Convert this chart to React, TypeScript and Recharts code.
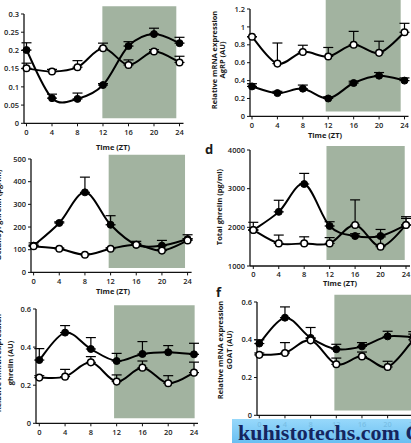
import { ComposedChart, Line, XAxis, YAxis, ErrorBar, ReferenceArea } from 'recharts';

// ZT sampling times (hours)
const ZT = [0, 4, 8, 12, 16, 20, 24];

// panel a
const aFilled = [0.201, 0.069, 0.067, 0.105, 0.212, 0.245, 0.22];
const aFilledErr = [0.02, 0.011, 0.016, 0.004, 0.012, 0.016, 0.016];
const aOpen = [0.151, 0.142, 0.154, 0.206, 0.16, 0.197, 0.167];
const aOpenErr = [0.014, 0.006, 0.018, 0.014, 0.014, 0.005, 0.017];
const aTicks = [0, 0.05, 0.1, 0.15, 0.2, 0.25, 0.3];

// panel b — AgRP mRNA
const bFilled = [0.335, 0.26, 0.31, 0.2, 0.373, 0.455, 0.4];
const bFilledErr = [0.03, 0.02, 0.04, 0.02, 0.02, 0.035, 0.03];
const bOpen = [0.89, 0.59, 0.72, 0.67, 0.8, 0.71, 0.94];
const bOpenErr = [0, 0.23, 0.075, 0.1, 0.15, 0.13, 0.1];
const bTicks = [0, 0.2, 0.4, 0.6, 0.8, 1, 1.2];

// panel c — octanoyl ghrelin
const cFilled = [118, 218, 353, 210, 122, 118, 147];
const cFilledErr = [12, 5, 67, 40, 15, 23, 19];
const cOpen = [115, 104, 78, 104, 122, 96, 141];
const cOpenErr = [6, 4, 4, 5, 6, 5, 8];
const cTicks = [0, 100, 200, 300, 400, 500];

// panel d — total ghrelin
const dFilled = [1930, 2400, 3120, 2035, 1775, 1775, 2060];
const dFilledErr = [200, 300, 275, 110, 60, 170, 170];
const dOpen = [1930, 1585, 1585, 1585, 2060, 1500, 2060];
const dOpenErr = [0, 215, 170, 150, 650, 250, 215];
const dTicks = [1000, 2000, 3000, 4000];

// panel e — ghrelin mRNA
const eFilled = [0.332, 0.476, 0.39, 0.327, 0.364, 0.373, 0.362];
const eFilledErr = [0.06, 0.037, 0.06, 0.04, 0.065, 0.035, 0.058];
const eOpen = [0.24, 0.245, 0.32, 0.219, 0.292, 0.21, 0.266];
const eOpenErr = [0.01, 0.038, 0.03, 0.035, 0.035, 0.04, 0.055];
const eTicks = [0, 0.2, 0.4, 0.6];

// panel f — GOAT mRNA
const fFilled = [0.38, 0.517, 0.41, 0.35, 0.365, 0.418, 0.413];
const fFilledErr = [0.02, 0.057, 0.055, 0.026, 0.02, 0.027, 0.03];
const fOpen = [0.32, 0.33, 0.397, 0.27, 0.312, 0.256, 0.4];
const fOpenErr = [0.01, 0.055, 0.01, 0.033, 0.023, 0.03, 0.03];
const fTicks = [0, 0.2, 0.4, 0.6];

const FONT = '"Open Sans", "Liberation Sans", sans-serif';
const SHADE = '#a2b3a0';

// Excel-like smoothed line (Catmull-Rom through the points)
function smoothCurve(context: any) {
  let pts: number[][] = [];
  return {
    areaStart() {},
    areaEnd() {},
    lineStart() {
      pts = [];
    },
    lineEnd() {
      if (!pts.length) return;
      context.moveTo(pts[0][0], pts[0][1]);
      for (let i = 0; i < pts.length - 1; i++) {
        const p0 = pts[i - 1] || pts[i];
        const p1 = pts[i];
        const p2 = pts[i + 1];
        const p3 = pts[i + 2] || p2;
        const t = 1 / 6;
        context.bezierCurveTo(
          p1[0] + (p2[0] - p0[0]) * t,
          p1[1] + (p2[1] - p0[1]) * t,
          p2[0] - (p3[0] - p1[0]) * t,
          p2[1] - (p3[1] - p1[1]) * t,
          p2[0],
          p2[1]
        );
      }
    },
    point(x: number, y: number) {
      pts.push([+x, +y]);
    },
  };
}

interface PanelDef {
  filled: number[];
  filledErr: number[];
  open: number[];
  openErr: number[];
  ticks: number[];
  shade: [number, number, number, number]; // x1, x2, y1, y2
  axisX: number;
  x0: number;
  x24: number;
  yTop: number;
  yBot: number;
}

const panels: PanelDef[] = [
  { filled: aFilled, filledErr: aFilledErr, open: aOpen, openErr: aOpenErr, ticks: aTicks,
    shade: [11.9, 23.5, 0.014, 0.321], axisX: 23.5, x0: 26, x24: 179, yTop: 14, yBot: 123.3 },
  { filled: bFilled, filledErr: bFilledErr, open: bOpen, openErr: bOpenErr, ticks: bTicks,
    shade: [11.6, 23.4, 0.056, 1.4], axisX: 249.5, x0: 251.5, x24: 404, yTop: 9.3, yBot: 116.7 },
  { filled: cFilled, filledErr: cFilledErr, open: cOpen, openErr: cOpenErr, ticks: cTicks,
    shade: [11.7, 23.6, 19, 519], axisX: 30.7, x0: 33.3, x24: 187.3, yTop: 159.3, yBot: 272.7 },
  { filled: dFilled, filledErr: dFilledErr, open: dOpen, openErr: dOpenErr, ticks: dTicks,
    shade: [11.5, 23.8, 1155, 4103], axisX: 250, x0: 253.3, x24: 406, yTop: 150, yBot: 266 },
  { filled: eFilled, filledErr: eFilledErr, open: eOpen, openErr: eOpenErr, ticks: eTicks,
    shade: [11.6, 24.1, 0.026, 0.62], axisX: 36, x0: 39.3, x24: 194, yTop: 309, yBot: 423.3 },
  { filled: fFilled, filledErr: fFilledErr, open: fOpen, openErr: fOpenErr, ticks: fTicks,
    shade: [11.7, 27, 0.026, 0.639], axisX: 256.7, x0: 259, x24: 413, yTop: 301.7, yBot: 415 },
];

const Y_W = 40;
const X_H = 30;
const M_TOP = 12;
const M_RIGHT = 12;
const PAD_R = 4;

function Panel({ p }: { p: PanelDef }) {
  const data = ZT.map((zt, i) => ({
    zt,
    filled: p.filled[i],
    open: p.open[i],
    filledErr: [0, p.filledErr[i]],
    openErr: [0, p.openErr[i]],
  }));
  const padL = p.x0 - p.axisX;
  const plotW = p.x24 + PAD_R - p.axisX;
  const plotH = p.yBot - p.yTop;
  const width = Y_W + plotW + M_RIGHT;
  const height = M_TOP + plotH + X_H;
  const tick = { fontSize: 7.5, fill: '#222', fontFamily: FONT, fontWeight: 600 };
  const axisLine = { stroke: '#111', strokeWidth: 1.3 };
  return (
    <div style={{ position: 'absolute', left: p.axisX - Y_W, top: p.yTop - M_TOP }}>
      <ComposedChart width={width} height={height} data={data}
        margin={{ top: M_TOP, right: M_RIGHT, bottom: 0, left: 0 }}>
        <ReferenceArea x1={p.shade[0]} x2={p.shade[1]} y1={p.shade[2]} y2={p.shade[3]}
          fill={SHADE} fillOpacity={1} stroke="none" ifOverflow="visible" />
        <XAxis type="number" dataKey="zt" domain={[0, 24]} ticks={ZT} interval={0}
          height={X_H} padding={{ left: padL, right: PAD_R }} tick={tick}
          axisLine={axisLine} tickLine={{ stroke: '#111' }} tickSize={3} tickMargin={3} />
        <YAxis type="number" domain={[p.ticks[0], p.ticks[p.ticks.length - 1]]}
          ticks={p.ticks} interval={0} width={Y_W} tick={tick}
          axisLine={axisLine} tickLine={{ stroke: '#111' }} tickSize={3} tickMargin={2} />
        <Line dataKey="filled" type={smoothCurve as any} stroke="#000" strokeWidth={2}
          dot={{ r: 3.5, fill: '#000', stroke: '#000', strokeWidth: 1 }} isAnimationActive={false}>
          <ErrorBar dataKey="filledErr" width={5} stroke="#000" strokeWidth={1.2} direction="y" />
        </Line>
        <Line dataKey="open" type={smoothCurve as any} stroke="#000" strokeWidth={2}
          dot={{ r: 3.3, fill: '#fff', stroke: '#000', strokeWidth: 1.5 }} isAnimationActive={false}>
          <ErrorBar dataKey="openErr" width={5} stroke="#000" strokeWidth={1.2} direction="y" />
        </Line>
      </ComposedChart>
    </div>
  );
}

const textBase: React.CSSProperties = {
  position: 'absolute',
  fontFamily: FONT,
  fontWeight: 700,
  fontSize: 7.5,
  color: '#1a1a1a',
  whiteSpace: 'nowrap',
  lineHeight: 1,
};

function HLabel({ x, y, text }: { x: number; y: number; text: string }) {
  return <div style={{ ...textBase, left: x, top: y, transform: 'translate(-50%, -50%)' }}>{text}</div>;
}

function VLabel({ x, y, text }: { x: number; y: number; text: string }) {
  return (
    <div style={{ ...textBase, left: x, top: y, transform: 'translate(-50%, -50%) rotate(-90deg)' }}>
      {text}
    </div>
  );
}

export default function App() {
  return (
    <div style={{ position: 'fixed', left: 0, top: 0, width: 411, height: 443, overflow: 'hidden', background: '#fff' }}>
      {panels.map((p, i) => (
        <Panel key={i} p={p} />
      ))}
      <HLabel x={113} y={148} text="Time (ZT)" />
      <HLabel x={325} y={136} text="Time (ZT)" />
      <HLabel x={113} y={292} text="Time (ZT)" />
      <HLabel x={340} y={284} text="Time (ZT)" />
      <HLabel x={118} y={447} text="Time (ZT)" />

      <VLabel x={215} y={60} text="Relative mRNA expression" />
      <VLabel x={223} y={60} text="AgRP (AU)" />
      <VLabel x={-1.5} y={215} text="Octanoyl ghrelin (pg/ml)" />
      <VLabel x={219.5} y={207} text="Total ghrelin (pg/ml)" />
      <VLabel x={-1.5} y={363} text="Relative mRNA expression" />
      <VLabel x={10.5} y={363} text="ghrelin (AU)" />
      <VLabel x={220.5} y={350} text="Relative mRNA expression" />
      <VLabel x={229.5} y={350} text="GOAT (AU)" />

      <div style={{ ...textBase, fontSize: 13, left: 205, top: 143 }}>d</div>
      <div style={{ ...textBase, fontSize: 13, left: 216, top: 286 }}>f</div>

      <div style={{
        position: 'absolute', left: 232, top: 419, width: 190, height: 30,
        background: 'linear-gradient(180deg, rgba(140,212,250,0.9), rgba(80,178,238,0.92))',
        fontFamily: '"Liberation Serif", serif', fontWeight: 700, fontSize: 22,
        color: '#15255f', whiteSpace: 'nowrap', lineHeight: '24px', paddingLeft: 6, paddingTop: 2,
        boxSizing: 'border-box',
      }}>
        kuhistotechs.com C
      </div>
    </div>
  );
}
